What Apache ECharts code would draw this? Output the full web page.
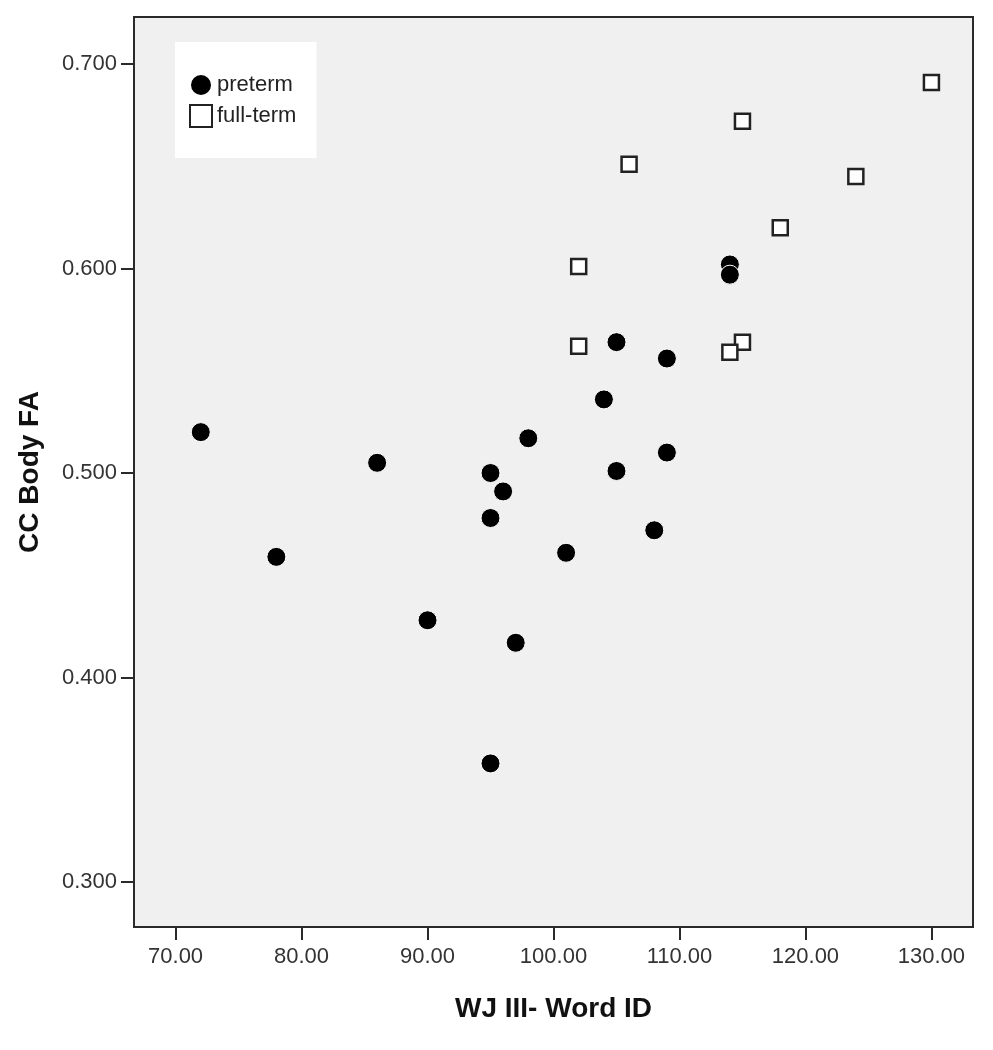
<!DOCTYPE html>
<html>
<head>
<meta charset="utf-8">
<script src="https://cdn.jsdelivr.net/npm/echarts@6/dist/echarts.min.js"></script>
<style>
html,body{margin:0;padding:0;background:#fff;}
#chart{width:993px;height:1050px;}
</style>
</head>
<body>
<div id="chart"></div>
<script>
// Data
const pretermX = [72, 78, 86, 90, 95, 95, 95, 96, 97, 98, 101, 104, 105, 105, 108, 109, 109, 114, 114];
const pretermY = [0.520, 0.459, 0.505, 0.428, 0.500, 0.478, 0.358, 0.491, 0.417, 0.517, 0.461, 0.536, 0.564, 0.501, 0.472, 0.556, 0.510, 0.602, 0.597];
const fullX = [102, 102, 106, 115, 115, 114, 118, 124, 130];
const fullY = [0.601, 0.562, 0.651, 0.672, 0.564, 0.559, 0.620, 0.645, 0.691];
const xTicks = [70, 80, 90, 100, 110, 120, 130];
const yTicks = [0.3, 0.4, 0.5, 0.6, 0.7];
const seriesNames = ['preterm', 'full-term'];
const xTitle = 'WJ III- Word ID';
const yTitle = 'CC Body FA';

const FONT = "'Liberation Sans', Arial, sans-serif";
const chart = echarts.init(document.getElementById('chart'), null, {renderer: 'canvas'});

const zip = (xs, ys) => xs.map((x, i) => [x, ys[i]]);

chart.setOption({
  backgroundColor: '#ffffff',
  animation: false,
  textStyle: {fontFamily: FONT},
  grid: {
    left: 134, right: 20, top: 17, bottom: 123,
    show: true, backgroundColor: '#f0f0f0', borderColor: '#2a2a2a', borderWidth: 2,
    containLabel: false, outerBoundsMode: 'none'
  },
  legend: {
    orient: 'vertical',
    left: 175, top: 42,
    backgroundColor: '#ffffff',
    padding: [31, 20, 30, 14],
    itemGap: 7,
    itemWidth: 22, itemHeight: 22,
    textStyle: {fontFamily: FONT, fontSize: 22, color: '#222'},
    data: seriesNames
  },
  xAxis: {
    type: 'value', min: 66.7, max: 133.3,
    name: xTitle, nameLocation: 'middle', nameGap: 68,
    nameTextStyle: {fontFamily: FONT, fontSize: 28, fontWeight: 'bold', color: '#111'},
    axisLine: {show: true, onZero: false, lineStyle: {color: '#2a2a2a', width: 2}},
    axisTick: {show: true, length: 13, lineStyle: {color: '#2a2a2a', width: 2}, customValues: xTicks},
    axisLabel: {fontFamily: FONT, fontSize: 22, color: '#333', margin: 19, customValues: xTicks,
      formatter: v => Number(v).toFixed(2)},
    splitLine: {show: false}
  },
  yAxis: {
    type: 'value', min: 0.278, max: 0.723,
    name: yTitle, nameLocation: 'middle', nameGap: 90, nameRotate: 90,
    nameTextStyle: {fontFamily: FONT, fontSize: 28, fontWeight: 'bold', color: '#111'},
    axisLine: {show: true, onZero: false, lineStyle: {color: '#2a2a2a', width: 2}},
    axisTick: {show: true, length: 13, lineStyle: {color: '#2a2a2a', width: 2}, customValues: yTicks},
    axisLabel: {fontFamily: FONT, fontSize: 22, color: '#333', margin: 17, customValues: yTicks,
      formatter: v => Number(v).toFixed(3)},
    splitLine: {show: false}
  },
  series: [
    {
      name: seriesNames[0], type: 'scatter', symbol: 'circle', symbolSize: 19,
      itemStyle: {color: '#000', borderColor: '#ffffff', borderWidth: 1, opacity: 1},
      data: zip(pretermX, pretermY)
    },
    {
      name: seriesNames[1], type: 'scatter', symbol: 'rect', symbolSize: 15,
      itemStyle: {color: '#ffffff', borderColor: '#222', borderWidth: 2.5, opacity: 1},
      data: zip(fullX, fullY)
    }
  ]
});
</script>
</body>
</html>
